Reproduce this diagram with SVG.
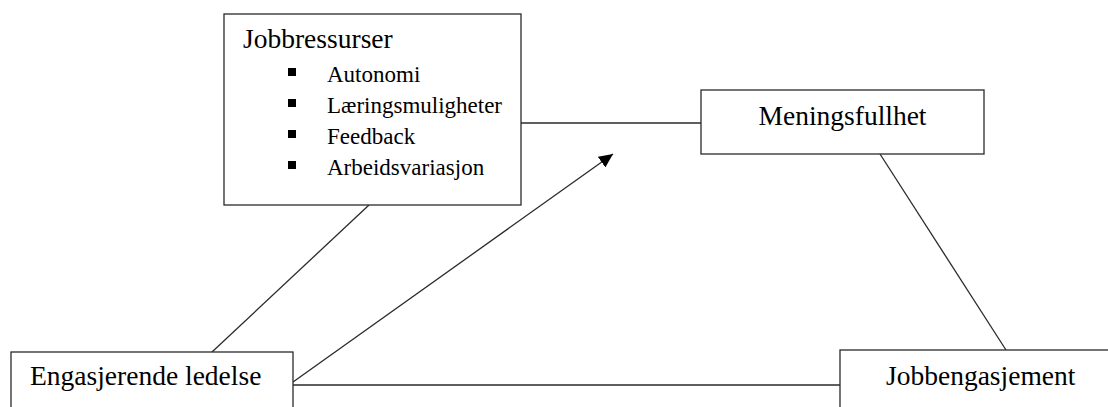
<svg xmlns="http://www.w3.org/2000/svg" width="1108" height="407" viewBox="0 0 1108 407">
<style>
.box{fill:#fff;stroke:#2a2a2a;stroke-width:1.3}
.ln{stroke:#2a2a2a;stroke-width:1.3;fill:none}
.t{font-family:"Liberation Serif","Times New Roman",serif;font-size:27.5px;fill:#000}
.s{font-family:"Liberation Serif","Times New Roman",serif;font-size:23px;fill:#000}
.b{fill:#000}
</style>
<defs>
<marker id="arr" markerUnits="userSpaceOnUse" markerWidth="15" markerHeight="13" refX="14" refY="6.5" orient="auto">
<path d="M0,0 L14,6.5 L0,13 z" fill="#000"/>
</marker>
</defs>
<rect width="1108" height="407" fill="#fff"/>
<g id="connectors">
<line class="ln" x1="521" y1="123" x2="701" y2="123"/>
<line class="ln" x1="369" y1="205" x2="212" y2="352"/>
<line class="ln" x1="880" y1="154" x2="1006" y2="350"/>
<line class="ln" x1="293" y1="385" x2="840" y2="385"/>
<line class="ln" x1="293" y1="382" x2="613" y2="154" marker-end="url(#arr)"/>
</g>
<g id="jobbressurser">
<rect class="box" x="224" y="14" width="297" height="191"/>
<text class="t" x="243" y="48">Jobbressurser</text>
<rect class="b" x="288" y="68" width="8" height="8"/>
<text class="s" x="327" y="82">Autonomi</text>
<rect class="b" x="288" y="99" width="8" height="8"/>
<text class="s" x="327" y="113">Læringsmuligheter</text>
<rect class="b" x="288" y="130" width="8" height="8"/>
<text class="s" x="327" y="144">Feedback</text>
<rect class="b" x="288" y="161" width="8" height="8"/>
<text class="s" x="327" y="175">Arbeidsvariasjon</text>
</g>
<g id="meningsfullhet">
<rect class="box" x="701" y="90" width="283" height="64"/>
<text class="t" x="842.5" y="125" text-anchor="middle">Meningsfullhet</text>
</g>
<g id="engasjerende">
<rect class="box" x="11" y="352" width="282" height="70"/>
<text class="t" x="30" y="385">Engasjerende ledelse</text>
</g>
<g id="jobbengasjement">
<rect class="box" x="840" y="350" width="290" height="70"/>
<text class="t" x="886" y="385">Jobbengasjement</text>
</g>
</svg>
